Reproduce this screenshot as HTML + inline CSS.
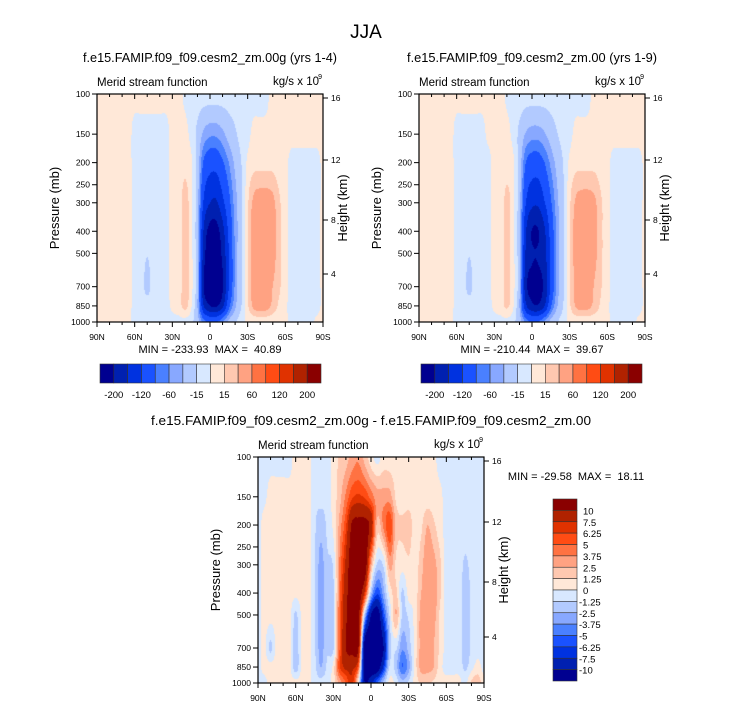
<!DOCTYPE html>
<html><head><meta charset="utf-8">
<style>
html,body{margin:0;padding:0;background:#fff;}
#root{position:relative;width:733px;height:708px;overflow:hidden;font-family:"Liberation Sans",sans-serif;}
canvas{position:absolute;}
svg{position:absolute;left:0;top:0;}
text{white-space:pre;}
</style></head>
<body>
<div id="root">
<canvas id="cv1" width="226" height="228" style="left:97px;top:94px"></canvas>
<canvas id="cv2" width="226" height="228" style="left:419px;top:94px"></canvas>
<canvas id="cv3" width="226" height="226" style="left:258px;top:457px"></canvas>
<svg id="ov" width="733" height="708"></svg>
</div>
<script>
// ---- data ----
const latitudes = [90,85,80,75,70,65,60,55,50,45,40,35,30,25,20,15,10,5,0,-5,-10,-15,-20,-25,-30,-35,-40,-45,-50,-55,-60,-65,-70,-75,-80,-85,-90];
const pressureLevels = [100,150,200,300,400,500,700,850,1000];
const yTickLabels = [100,150,200,250,300,400,500,700,850,1000];
const xTickLabels = ["90N","60N","30N","0","30S","60S","90S"];
const heightTicks = [16,12,8,4];
const topLevels = [-200,-160,-120,-80,-60,-40,-15,0,15,30,60,80,120,160,200];
const topLevelLabels = ["-200","-120","-60","-15","15","60","120","200"];
const diffLevels = [-10,-7.5,-6.25,-5,-3.75,-2.5,-1.25,0,1.25,2.5,3.75,5,6.25,7.5,10];
const diffLevelLabels = ["-10","-7.5","-6.25","-5","-3.75","-2.5","-1.25","0","1.25","2.5","3.75","5","6.25","7.5","10"];
const colors = ["#000090","#0020b0","#0032e0","#1a52ff","#4a80ff","#88a8ff","#b2caff","#d8e8ff","#ffe8d8","#ffc8b0","#ffa282","#ff7242","#ff4c14","#e03200","#b02200","#8a0000"];

const field00g = [
[5,5,5,5,5,5,5,5,5,5,5,5,5,5,-3,-5,-5,-5,-5,-5,-5,-5,-5,-5,-5,-5,-5,-3,5,5,5,5,5,5,5,5,5],
[5,5,5,5,5,5,-5,-5,-5,-5,-5,-5,5,5,5,-5,-20,-45,-55,-55,-45,-30,-18,-8,-4,4,4,4,4,4,5,5,5,5,5,5,5],
[5,5,5,5,5,5,-5,-5,-5,-5,-5,-5,5,5,10,3,-25,-85,-105,-105,-85,-60,-35,-15,3,10,10,10,10,6,4,-5,-5,-5,-5,-5,3],
[5,5,5,5,5,5,-5,-5,-5,-5,-5,-5,6,6,22,5,-30,-125,-160,-165,-130,-90,-50,-20,12,35,40,40,35,18,6,-5,-5,-5,-5,-5,3],
[5,5,5,5,5,5,-5,-5,-5,-5,-5,-5,6,6,22,5,-35,-165,-215,-215,-175,-110,-55,-20,15,42,45,42,38,20,6,-5,-5,-5,-5,-5,3],
[5,5,5,5,5,5,-5,-5,-14,-5,-5,-5,6,6,22,5,-35,-180,-230,-230,-190,-120,-55,-20,15,42,48,45,38,20,6,-5,-5,-5,-5,-5,3],
[5,5,5,5,5,5,-5,-5,-22,-5,-5,-5,6,6,22,5,-35,-200,-234,-234,-205,-120,-55,-20,15,40,45,40,30,18,5,-5,-5,-5,-5,-5,3],
[5,5,5,5,5,5,-5,-5,-5,-5,-5,-5,3,8,20,2,-40,-160,-200,-205,-170,-90,-45,-15,12,35,40,38,25,12,3,-5,-5,-5,-5,-5,3],
[4,4,4,4,4,4,-5,-5,-5,-5,-5,-5,-5,-5,-5,-10,-30,-70,-90,-85,-60,-35,-18,-5,3,5,5,5,5,5,3,-5,-5,-5,-5,3,3]
];
const field00 = [
[5,5,5,5,5,5,5,5,5,5,5,5,5,5,-3,-5,-5,-5,-5,-5,-5,-5,-5,-5,-5,-5,-5,-3,5,5,5,5,5,5,5,5,5],
[5,5,5,5,5,5,-5,-5,-5,-5,-5,3,5,5,5,-5,-20,-42,-50,-50,-42,-28,-16,-8,-4,4,4,4,4,4,5,5,5,5,5,5,5],
[5,5,5,5,5,5,-5,-5,-5,-5,-5,-5,5,5,8,3,-25,-80,-98,-98,-80,-55,-32,-14,3,10,10,10,10,6,4,-5,-5,-5,-5,-5,3],
[5,5,5,5,5,5,-5,-5,-5,-5,-5,-5,6,6,20,5,-30,-118,-150,-152,-122,-84,-46,-18,12,33,38,38,33,17,6,-5,-5,-5,-5,-5,3],
[5,5,5,5,5,5,-5,-5,-5,-5,-5,-5,6,6,20,5,-35,-155,-202,-202,-165,-104,-52,-18,15,38,42,40,35,18,6,-5,-5,-5,-5,-5,3],
[5,5,5,5,5,5,-5,-5,-14,-5,-5,-5,6,6,20,5,-35,-165,-195,-196,-172,-110,-52,-18,14,38,44,42,35,18,6,-5,-5,-5,-5,-5,3],
[5,5,5,5,5,5,-5,-5,-22,-5,-5,-5,6,6,20,5,-35,-185,-210,-210,-190,-112,-52,-18,14,36,42,38,28,16,5,-5,-5,-5,-5,-5,3],
[5,5,5,5,5,5,-5,-5,-5,-5,-5,-5,3,8,18,2,-40,-150,-190,-195,-160,-85,-42,-14,12,32,38,35,24,12,3,-5,-5,-5,-5,-5,3],
[4,4,4,4,4,4,-5,-5,-5,-5,-5,-5,-5,-5,-5,-10,-30,-65,-85,-80,-56,-33,-17,-5,3,5,5,5,5,5,3,-5,-5,-5,-5,3,3]
];
const fieldDiff = [
[-0.5,-0.5,-0.5,-0.5,-0.5,-0.5,0.5,0.5,0.5,-0.5,-0.5,-0.5,0.5,1.5,2,3,3.5,2,0.5,-0.5,0.5,0.5,0.5,0.5,0.5,0.5,0.5,0.5,0.3,-0.5,-0.5,-0.5,-0.5,-0.5,-0.5,-0.5,-0.5],
[-0.5,-0.3,0.5,0.5,0.5,0.5,0.5,0.5,0.5,-0.8,-0.8,-0.8,0.5,2,4,6,6.5,6,4.5,3,3,3,1,0.5,0.5,0.5,0.5,0.5,0.5,0.3,-0.5,-0.5,-0.5,-0.5,-0.5,-0.5,-0.5],
[-0.5,0.5,0.5,0.5,0.5,0.5,0.5,0.5,0.5,-1,-2,-1,0.3,3,6,10.5,11,11,9,2,4,6,2,1.5,2,0.5,1,2.5,1.5,0.5,-0.5,-0.5,-0.5,-0.5,-0.5,-0.5,-0.5],
[-0.5,0.5,0.5,0.5,0.5,0.5,0.3,0.5,0.5,-1,-3,-1.5,-1,4,8,12,12,12,3,-1.5,-1,3,1,0.5,1,0.5,2,3.5,3,1.5,-0.5,-0.5,-0.5,-1.5,-0.8,-0.5,-0.5],
[-0.5,0.5,0.5,0.5,0.5,0.5,0.3,0.5,0.5,-1,-3,-1.5,-1.5,4.5,9,12,12,7,-2,-6,-3,0.5,1.5,-1.5,0.5,0.5,2.5,3,3.5,1.5,-0.5,-0.5,-0.5,-2,-1,-0.5,-0.5],
[-0.5,0.5,0.5,0.5,0.5,0.5,-1.5,0.3,0.5,-1,-3,-1.5,-1.5,5,9.5,12,11,-2,-10,-12,-6,-1,2.5,-1.5,-1,0.5,3,3,3,1,-0.5,-0.5,-0.5,-2,-1,-0.5,-0.5],
[-0.5,0.3,-1.5,0.5,0.5,0.5,-2,0.3,0.5,-1,-3,-1.5,-1.5,5,10,11,10,-12,-13,-13,-10,-2,-1,-3.5,-2,0.5,3,3,2.5,1,-0.5,-0.5,-0.5,-2,-1,-0.5,-0.5],
[-0.5,0.5,0.5,0.5,0.5,0.5,-2,0.3,0.5,-0.8,-2.5,-1,0.5,6,8,8,5,-12,-13,-12,-7,-1,-2,-5,-3,0.5,3,3,2.5,0.5,-0.5,-0.5,-0.5,-1.5,-0.5,0.5,-0.5],
[-0.5,-0.5,0.5,0.5,0.5,0.5,0.5,0.5,0.5,-0.5,-0.8,-0.5,0.5,3,5,7,0,-10,-8,-5,-2,0.5,-0.5,-2,-1,0.5,1.5,1.5,1,0.5,0.5,0.5,0.5,-0.5,1.5,2,0.5]
];

// ---- rendering ----
function hexRgb(h){return [parseInt(h.substr(1,2),16),parseInt(h.substr(3,2),16),parseInt(h.substr(5,2),16)];}
const rgb = colors.map(hexRgb);
function cr(p0,p1,p2,p3,t){
  return 0.5*((2*p1)+(-p0+p2)*t+(2*p0-5*p1+4*p2-p3)*t*t+(-p0+3*p1-3*p2+p3)*t*t*t);
}
function drawField(id, grid, levels){
  const cv=document.getElementById(id), ctx=cv.getContext('2d');
  const W=cv.width,H=cv.height, img=ctx.createImageData(W,H);
  const lp=pressureLevels.map(p=>Math.log10(p));
  const nLat=latitudes.length, nR=lp.length;
  const cl=(a,lo,hi)=>Math.max(lo,Math.min(hi,a));
  for(let py=0;py<H;py++){
    const l=2+(py+0.5)/H;
    let r=0; while(r<nR-2 && l>lp[r+1]) r++;
    let ty=cl((l-lp[r])/(lp[r+1]-lp[r]),0,1);
    const rows=[cl(r-1,0,nR-1),r,r+1,cl(r+2,0,nR-1)];
    for(let px=0;px<W;px++){
      const lat=90-180*(px+0.5)/W;
      let c=0; while(c<nLat-2 && lat<latitudes[c+1]) c++;
      let tx=cl((latitudes[c]-lat)/(latitudes[c]-latitudes[c+1]),0,1);
      const cols=[cl(c-1,0,nLat-1),c,c+1,cl(c+2,0,nLat-1)];
      const vs=rows.map(rr=>cr(grid[rr][cols[0]],grid[rr][cols[1]],grid[rr][cols[2]],grid[rr][cols[3]],tx));
      const v=cr(vs[0],vs[1],vs[2],vs[3],ty);
      let k=0; while(k<levels.length && v>=levels[k]) k++;
      const col=rgb[k], o=(py*W+px)*4;
      img.data[o]=col[0];img.data[o+1]=col[1];img.data[o+2]=col[2];img.data[o+3]=255;
    }
  }
  ctx.putImageData(img,0,0);
}
drawField('cv1',field00g,topLevels);
drawField('cv2',field00,topLevels);
drawField('cv3',fieldDiff,diffLevels);

// ---- axes ----
const svg=document.getElementById('ov');
const NS='http://www.w3.org/2000/svg';
function el(tag,attrs,parent){const e=document.createElementNS(NS,tag);for(const k in attrs)e.setAttribute(k,attrs[k]);(parent||svg).appendChild(e);return e;}
function txt(x,y,s,size,anchor,name,extra){
  const t=el('text',Object.assign({x:x,y:y,'font-size':size,'text-anchor':anchor||'middle','font-family':'Liberation Sans, sans-serif',fill:'#000'},extra||{}));
  t.textContent=s;
  
  
  return t;
}
function panel(x0,y0,W,H,title,titleLen,heightYs,minmax,mmx,mmy,prefix){
  const g=el('g',{});
  
  
  el('rect',{x:x0,y:y0,width:W,height:H,fill:'none',stroke:'#000','stroke-width':1.2},g);
  for(let d=0;d<=18;d++){
    const x=x0+W*d/18, major=d%3===0;
    el('line',{x1:x,y1:y0+H,x2:x,y2:y0+H+(major?5:3),stroke:'#000','stroke-width':1},g);
    el('line',{x1:x,y1:y0,x2:x,y2:y0+(major?5:3),stroke:'#000','stroke-width':1},g);
  }
  xTickLabels.forEach((s,i)=>{txt(x0+W*i/6,y0+H+18,s,8.5,'middle',prefix+'-x-tick-'+s);});
  yTickLabels.forEach(p=>{
    const y=y0+H*Math.log10(p/100);
    el('line',{x1:x0-5,y1:y,x2:x0,y2:y,stroke:'#000','stroke-width':1},g);
    txt(x0-7,y+3,String(p),8.5,'end',prefix+'-y-tick-'+p);
  });
  heightTicks.forEach((h,i)=>{
    const y=heightYs[i];
    el('line',{x1:x0+W,y1:y,x2:x0+W+5,y2:y,stroke:'#000','stroke-width':1},g);
    txt(x0+W+8,y+3,String(h),8.5,'start',prefix+'-height-tick-'+h);
  });
  txt(x0-38,y0+H/2,'Pressure (mb)',13,'middle',prefix+'-y-axis-title',{transform:'rotate(-90 '+(x0-38)+' '+(y0+H/2)+')'});
  txt(x0+W+24,y0+H/2,'Height (km)',13,'middle',prefix+'-right-axis-title',{transform:'rotate(-90 '+(x0+W+24)+' '+(y0+H/2)+')'});
  txt(x0,y0-8,'Merid stream function',11.5,'start',prefix+'-left-subtitle');
  txt(x0+W-4,y0-9,'kg/s x 10',11.5,'end',prefix+'-units');
  txt(x0+W-1,y0-15,'9',7,'end',prefix+'-units-exponent');
  txt(x0+W/2,y0-32,title,13,'middle',prefix+'-title',{textLength:titleLen,lengthAdjust:'spacingAndGlyphs'});
  txt(mmx,mmy,minmax,11,'middle',prefix+'-min-max',{'xml:space':'preserve'});
}
txt(366,38,'JJA',19,'middle','figure-title');
panel(97,94,226,228,'f.e15.FAMIP.f09_f09.cesm2_zm.00g (yrs 1-4)',254,[98,160,220,274],'MIN = -233.93  MAX =  40.89',210,353,'top-left');
panel(419,94,226,228,'f.e15.FAMIP.f09_f09.cesm2_zm.00 (yrs 1-9)',250,[98,160,220,274],'MIN = -210.44  MAX =  39.67',532,353,'top-right');
panel(258,457,226,226,'f.e15.FAMIP.f09_f09.cesm2_zm.00g - f.e15.FAMIP.f09_f09.cesm2_zm.00',440,[461,522,582,637],'MIN = -29.58  MAX =  18.11',576,480,'bottom');

function hbar(x0,y0,W,H,prefix){
  const n=colors.length, bw=W/n;
  colors.forEach((c,i)=>{
    const r=el('rect',{x:x0+i*bw,y:y0,width:bw,height:H,fill:c,stroke:'#333','stroke-width':0.6});
    
    
  });
  topLevelLabels.forEach((s,i)=>{
    const k=2*i+1;
    txt(x0+bw*k,y0+H+15,s,9.5,'middle',prefix+'-label-'+s);
  });
}
hbar(100,364,221,19,'top-left-colorbar');
hbar(421,364,221,19,'top-right-colorbar');

(function(){
  const x0=553,y0=499,W=24,Ht=182,n=colors.length,bh=Ht/n;
  for(let i=0;i<n;i++){
    const r=el('rect',{x:x0,y:y0+i*bh,width:W,height:bh,fill:colors[n-1-i],stroke:'#333','stroke-width':0.6});
    
    
  }
  const rev=diffLevelLabels.slice().reverse();
  rev.forEach((s,i)=>{
    const y=y0+bh*(i+1);
    txt(x0+W+2+(s[0]==='-'?0:4),y+4,s,9.5,'start','diff-colorbar-label-'+i);
  });
})();
</script>
</body></html>
